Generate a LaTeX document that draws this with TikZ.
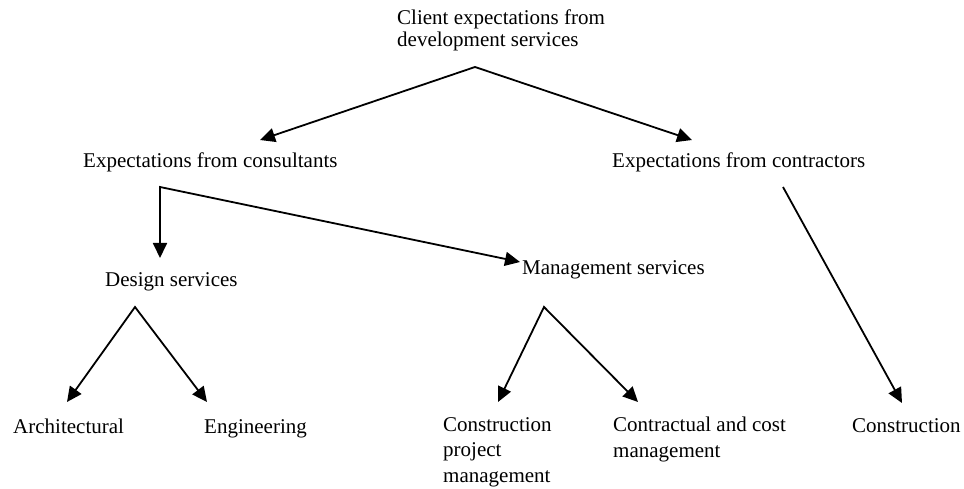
\documentclass[tikz,border=0pt]{standalone}
\usepackage{fontspec}
\setmainfont{Liberation Serif}
\usetikzlibrary{arrows.meta}
\begin{document}
\begin{tikzpicture}[x=1pt,y=-1pt,
  lbl/.style={inner sep=0pt, anchor=base west, align=left, font=\fontsize{21}{25.5}\selectfont},
  twoarr/.style={line width=1.8pt, line join=miter, {Triangle[length=15pt,width=14pt]}-{Triangle[length=15pt,width=14pt]}},
  arr/.style={line width=1.8pt, -{Triangle[length=15pt,width=14pt]}}]
\useasboundingbox (0,0) rectangle (964,489);
% labels (base anchor of a multi-line label = baseline of its last line)
\node[lbl, font=\fontsize{21}{22}\selectfont] (client) at (397,47) {Client expectations from\\development services};
\node[lbl] (cons) at (83,168) {Expectations from consultants};
\node[lbl] (contr) at (612,168) {Expectations from contractors};
\node[lbl] (design) at (105,287) {Design services};
\node[lbl] (mgmt) at (522,275) {Management services};
\node[lbl] (arch) at (13,433) {Architectural};
\node[lbl] (eng) at (204,433) {Engineering};
\node[lbl] (cpm) at (443,482) {Construction\\project\\management};
\node[lbl] (ccm) at (613,457) {Contractual and cost\\management};
\node[lbl] (constr) at (852,432) {Construction};
% connector points
\coordinate (a1) at (475,67);
\coordinate (t1) at (260,140);
\coordinate (t2) at (692,140);
\coordinate (a2) at (160,187);
\coordinate (t3) at (160,258);
\coordinate (t4) at (520,262);
\coordinate (a3) at (135,307);
\coordinate (t5) at (67,402);
\coordinate (t6) at (207,402);
\coordinate (a4) at (544,307);
\coordinate (t7) at (498,402);
\coordinate (t8) at (638,402);
\coordinate (a5) at (783,187);
\coordinate (t9) at (902,403);
% connectors
\draw[twoarr] (t1) -- (a1) -- (t2);
\draw[twoarr] (t3) -- (a2) -- (t4);
\draw[twoarr] (t5) -- (a3) -- (t6);
\draw[twoarr] (t7) -- (a4) -- (t8);
\draw[arr] (a5) -- (t9);
\end{tikzpicture}
\end{document}
